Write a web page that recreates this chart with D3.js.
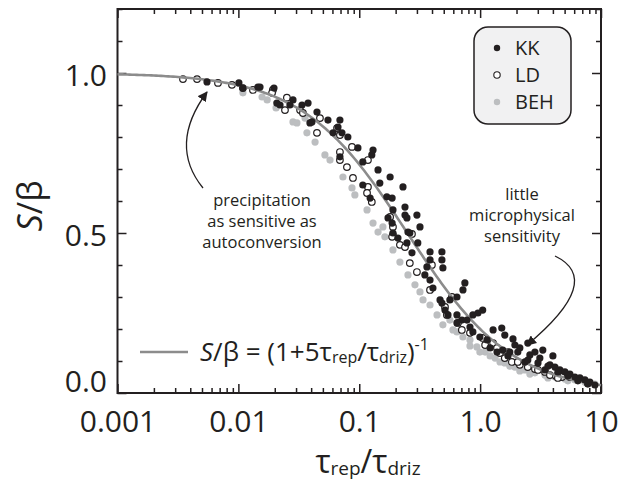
<!DOCTYPE html>
<html>
<head>
<meta charset="utf-8">
<script src="https://cdn.jsdelivr.net/npm/d3@7"></script>
<style>
  body { margin: 0; background: #fff; }
  text { font-family: "Open Sans", sans-serif; fill: #231f20; }
</style>
</head>
<body>
<div id="vis"></div>
<script>
// data: [tau_rep/tau_driz, S/beta]
const KK = [
  [0.0055,0.972],[0.0101,0.969],[0.0109,0.953],[0.0145,0.956],[0.0151,0.956],[0.0197,0.953],
  [0.0208,0.906],[0.0221,0.900],[0.0283,0.916],[0.0267,0.900],[0.0336,0.900],[0.0377,0.906],
  [0.0447,0.878],[0.0391,0.844],[0.0406,0.847],[0.0551,0.853],[0.0692,0.853],[0.0667,0.831],
  [0.0719,0.813],[0.0607,0.813],[0.0805,0.800],[0.0975,0.766],[0.130,0.759],[0.127,0.744],
  [0.0692,0.738],[0.107,0.722],[0.143,0.697],[0.180,0.675],[0.107,0.650],[0.148,0.656],
  [0.230,0.644],[0.123,0.609],[0.169,0.613],[0.187,0.609],[0.239,0.581],[0.239,0.556],
  [0.300,0.556],[0.318,0.519],[0.173,0.547],[0.187,0.531],[0.253,0.503],[0.190,0.572],
  [0.248,0.547],[0.190,0.500],[0.262,0.500],[0.209,0.484],[0.248,0.469],[0.305,0.469],
  [0.273,0.438],[0.385,0.441],[0.483,0.441],[0.483,0.416],[0.492,0.391],[0.385,0.416],
  [0.363,0.394],[0.349,0.369],[0.385,0.353],[0.407,0.328],[0.748,0.344],[0.721,0.322],
  [0.643,0.300],[0.466,0.291],[0.483,0.281],[0.562,0.291],[1.05,0.259],[0.959,0.250],
  [0.871,0.244],[0.512,0.259],[0.542,0.244],[0.643,0.244],[0.706,0.228],[0.643,0.219],
  [0.778,0.228],[0.824,0.206],[0.871,0.191],[0.995,0.175],[1.28,0.197],[1.51,0.203],
  [1.60,0.181],[1.14,0.166],[1.54,0.134],[1.76,0.128],[2.13,0.141],[2.58,0.119],
  [3.12,0.109],[3.78,0.088],[4.57,0.072],[5.53,0.059],[6.69,0.047],[8.09,0.034],
  [2.35,0.097],[3.44,0.072],[1.94,0.150],[2.84,0.128],[4.16,0.081],[5.03,0.066],
  [6.08,0.050],[7.36,0.041],[1.21,0.141],[1.38,0.128],[1.70,0.116],[2.05,0.128],
  [2.48,0.103],[3.01,0.094],[3.64,0.084],[4.40,0.066],[5.32,0.053],[6.44,0.038],
  [7.78,0.028],[8.90,0.025],[1.87,0.169],[2.48,0.156],[3.30,0.134],[4.00,0.116]
];

const LD = [
  [0.00348,0.981],[0.00455,0.981],[0.00678,0.969],[0.00885,0.963],[0.0132,0.947],[0.0193,0.947],
  [0.0109,0.953],[0.0190,0.938],[0.0252,0.923],[0.0243,0.884],[0.0324,0.884],[0.0342,0.875],
  [0.0473,0.859],[0.0447,0.813],[0.0655,0.828],[0.0692,0.806],[0.0871,0.769],[0.0692,0.753],
  [0.0692,0.728],[0.0791,0.706],[0.118,0.728],[0.0887,0.672],[0.118,0.644],[0.116,0.625],
  [0.127,0.597],[0.180,0.550],[0.190,0.519],[0.190,0.494],[0.273,0.497],[0.187,0.488],
  [0.217,0.463],[0.239,0.456],[0.399,0.400],[0.262,0.406],[0.300,0.378],[0.385,0.322],
  [0.512,0.269],[0.585,0.300],[0.531,0.244],[0.655,0.219],[0.824,0.188],[1.28,0.156],
  [1.46,0.125],[1.60,0.109],[1.83,0.097],[2.13,0.088],[2.48,0.081],[2.84,0.075],
  [3.44,0.066],[3.78,0.056],[4.24,0.053],[4.75,0.050],[5.53,0.050],[6.44,0.044],
  [1.10,0.150],[0.706,0.197],[1.05,0.172],[1.38,0.141],[1.70,0.128],[2.05,0.097],
  [3.01,0.072],[4.40,0.047],[7.78,0.031]
];

const BEH = [
  [0.0109,0.938],[0.0205,0.891],[0.0173,0.916],[0.0157,0.925],[0.0283,0.847],[0.0305,0.844],
  [0.0369,0.813],[0.0431,0.784],[0.0520,0.744],[0.0733,0.675],[0.0871,0.641],[0.116,0.572],
  [0.130,0.531],[0.157,0.519],[0.143,0.503],[0.163,0.488],[0.190,0.447],[0.253,0.369],
  [0.318,0.316],[0.337,0.291],[0.385,0.275],[0.440,0.244],[0.492,0.213],[0.643,0.191],
  [0.721,0.175],[0.824,0.166],[0.940,0.144],[1.10,0.128],[1.33,0.109],[1.60,0.094],
  [1.94,0.081],[2.35,0.072],[2.84,0.063],[3.44,0.056],[4.16,0.050],[5.03,0.044],
  [6.08,0.041],[7.36,0.034],[0.0573,0.728],[0.0920,0.619],[0.217,0.409],[0.289,0.338],
  [0.562,0.228],[0.0356,0.859],[0.995,0.128],[1.21,0.116],[1.46,0.097],[1.76,0.084],
  [2.13,0.069],[2.58,0.059],[3.64,0.047],[5.32,0.038],[8.90,0.028],[0.824,0.147],
  [0.596,0.197]
];

// ticks
const X_MAJOR = [0.001, 0.01, 0.1, 1, 10];
const X_LABELS = ["0.001", "0.01", "0.1", "1.0", "10"];
const Y_MAJOR = [0, 0.5, 1.0];
const Y_LABELS = ["0.0", "0.5", "1.0"];
const SERIES = ["KK", "LD", "BEH"];

// fit line, drawn where the picture draws it: S/beta = (1 + k x)^-1
const FIT_COEF = 4;

const FRAME_WIDTH = 628;
const FRAME_HEIGHT = 482;
const MARGINS = {left: 117.5, right: 27, top: 9, bottom: 89};

const INK = "#231f20";
const GREY_PT = "#bcbec0";
const GREY_LINE = "#8c8c8c";

const svg = d3.select("#vis")
  .append("svg")
    .attr("width", FRAME_WIDTH)
    .attr("height", FRAME_HEIGHT);

const X_SCALE = d3.scaleLog()
  .domain([0.001, 10])
  .range([MARGINS.left, FRAME_WIDTH - MARGINS.right]);

const Y_SCALE = d3.scaleLinear()
  .domain([0, 1.2])
  .range([FRAME_HEIGHT - MARGINS.bottom, MARGINS.top]);

const x0 = X_SCALE.range()[0], x1 = X_SCALE.range()[1];
const y0 = Y_SCALE.range()[0], y1 = Y_SCALE.range()[1];

const X_MINOR = X_SCALE.ticks().filter(v => !X_MAJOR.some(m => Math.abs(m - v) < 1e-9));
const Y_MINOR = d3.range(0, 1.21, 0.1).filter(v => !Y_MAJOR.some(m => Math.abs(m - v) < 1e-6));

// draws inward ticks on one side
function ticks(axisFn, scale, values, size, pos, labels) {
  const ax = axisFn(scale).tickValues(values).tickSize(-size).tickSizeOuter(0);
  ax.tickFormat(labels ? ((d, i) => labels[i]) : "");
  const g = svg.append("g").attr("transform", pos).call(ax);
  g.select(".domain").remove();
  g.selectAll("line").attr("stroke", INK).attr("stroke-width", 1.5);
  return g;
}

ticks(d3.axisBottom, X_SCALE, X_MINOR, 5, `translate(0,${y0})`);
const xb = ticks(d3.axisBottom, X_SCALE, X_MAJOR, 9, `translate(0,${y0})`, X_LABELS);
xb.selectAll(".tick text")
  .attr("y", 18)
  .attr("font-size", "30px")
  .attr("font-family", "Open Sans")
  .attr("fill", INK);
ticks(d3.axisTop, X_SCALE, X_MINOR, 5, `translate(0,${y1})`);
ticks(d3.axisTop, X_SCALE, X_MAJOR, 9, `translate(0,${y1})`);

ticks(d3.axisLeft, Y_SCALE, Y_MINOR, 5, `translate(${x0},0)`);
const yl = ticks(d3.axisLeft, Y_SCALE, Y_MAJOR, 9, `translate(${x0},0)`, Y_LABELS);
yl.selectAll(".tick text")
  .attr("x", -10.5)
  .attr("font-size", "30px")
  .attr("font-family", "Open Sans")
  .attr("fill", INK)
  .attr("dy", (d) => d === 0 ? "-0.05em" : "0.4em");
ticks(d3.axisRight, Y_SCALE, Y_MINOR, 5, `translate(${x1},0)`);
ticks(d3.axisRight, Y_SCALE, Y_MAJOR, 9, `translate(${x1},0)`);

// frame
svg.append("rect")
  .attr("x", x0).attr("y", y1)
  .attr("width", x1 - x0).attr("height", y0 - y1)
  .attr("fill", "none").attr("stroke", INK).attr("stroke-width", 2);

// points
const plot = svg.append("g");

plot.selectAll(".beh").data(BEH).enter().append("circle")
  .attr("class", "beh")
  .attr("cx", d => X_SCALE(d[0])).attr("cy", d => Y_SCALE(d[1]))
  .attr("r", 3.6).attr("fill", GREY_PT);

plot.selectAll(".ld").data(LD).enter().append("circle")
  .attr("class", "ld")
  .attr("cx", d => X_SCALE(d[0])).attr("cy", d => Y_SCALE(d[1]))
  .attr("r", 3.3).attr("fill", "#fff").attr("stroke", INK).attr("stroke-width", 1.2);

// fit curve
const curveX = d3.range(-3, 1.0001, 0.02).map(e => Math.pow(10, e));
plot.append("path")
  .datum(curveX)
  .attr("fill", "none").attr("stroke", GREY_LINE).attr("stroke-width", 2.6)
  .attr("d", d3.line().x(d => X_SCALE(d)).y(d => Y_SCALE(1 / (1 + FIT_COEF * d))));

plot.selectAll(".kk").data(KK).enter().append("circle")
  .attr("class", "kk")
  .attr("cx", d => X_SCALE(d[0])).attr("cy", d => Y_SCALE(d[1]))
  .attr("r", 3.6).attr("fill", INK);

// axis titles
svg.append("text")
  .attr("transform", "translate(30,206) rotate(-90)")
  .attr("text-anchor", "middle").attr("dy", "0.35em")
  .attr("font-size", "34px")
  .call(t => {
    t.append("tspan").attr("font-style", "italic").text("S");
    t.append("tspan").text("/β");
  });

svg.append("text")
  .attr("x", 368).attr("y", 473)
  .attr("text-anchor", "middle")
  .attr("font-family", "DejaVu Sans")
  .attr("font-size", "32px")
  .call(t => {
    t.append("tspan").text("τ");
    t.append("tspan").attr("font-size", "19px").attr("dy", 2).text("rep");
    t.append("tspan").attr("dy", -2).text("/τ");
    t.append("tspan").attr("font-size", "19px").attr("dy", 2).text("driz");
  });

// legend
const legend = svg.append("g").attr("transform", "translate(474,27)");
legend.append("rect")
  .attr("width", 97).attr("height", 97).attr("rx", 14)
  .attr("fill", "#f1f1f2").attr("stroke", INK).attr("stroke-width", 1.5);

const legendStyle = {
  KK: {fill: INK, stroke: "none"},
  LD: {fill: "#fff", stroke: INK},
  BEH: {fill: GREY_PT, stroke: "none"}
};
SERIES.forEach((s, i) => {
  const row = legend.append("g").attr("transform", `translate(23,${21 + i * 27})`);
  row.append("circle").attr("r", 3.2)
    .attr("fill", legendStyle[s].fill).attr("stroke", legendStyle[s].stroke).attr("stroke-width", 1.1);
  row.append("text").attr("x", 18).attr("dy", "0.36em").attr("font-size", "20px").text(s);
});

// fit legend
svg.append("line")
  .attr("x1", 140).attr("x2", 188).attr("y1", 352).attr("y2", 352)
  .attr("stroke", GREY_LINE).attr("stroke-width", 2.6);
svg.append("text")
  .attr("x", 200).attr("y", 361)
  .attr("font-size", "26px")
  .call(t => {
    t.append("tspan").attr("font-style", "italic").text("S");
    t.append("tspan").text("/β = (1+5τ");
    t.append("tspan").attr("font-size", "16px").attr("dy", 2).text("rep");
    t.append("tspan").attr("dy", -2).text("/τ");
    t.append("tspan").attr("font-size", "16px").attr("dy", 2).text("driz");
    t.append("tspan").attr("dy", -2).text(")");
    t.append("tspan").attr("font-size", "16px").attr("dy", -11).text("-1");
  });

// annotations
svg.append("defs").append("marker")
  .attr("id", "head").attr("viewBox", "0 0 10 10")
  .attr("refX", 9).attr("refY", 5)
  .attr("markerWidth", 10).attr("markerHeight", 10)
  .attr("markerUnits", "userSpaceOnUse")
  .attr("orient", "auto")
  .append("path").attr("d", "M0,0L10,5L0,10Z").attr("fill", INK);

svg.append("path")
  .attr("d", "M203,188 Q168,145 207,92")
  .attr("fill", "none").attr("stroke", INK).attr("stroke-width", 1.3)
  .attr("marker-end", "url(#head)");

svg.append("path")
  .attr("d", "M555,256 Q605,280 527,345")
  .attr("fill", "none").attr("stroke", INK).attr("stroke-width", 1.3)
  .attr("marker-end", "url(#head)");

// notes, one text per line
const note1 = ["precipitation", "as sensitive as", "autoconversion"];
svg.selectAll(".note1").data(note1).enter().append("text")
  .attr("class", "note1")
  .attr("text-anchor", "middle")
  .attr("font-family", "DejaVu Sans")
  .attr("font-size", "16.5px")
  .attr("x", 262).attr("y", (d, i) => 206 + i * 21)
  .text(d => d);

const note2 = ["little", "microphysical", "sensitivity"];
svg.selectAll(".note2").data(note2).enter().append("text")
  .attr("class", "note2")
  .attr("text-anchor", "middle")
  .attr("font-family", "DejaVu Sans")
  .attr("font-size", "16.5px")
  .attr("x", 522).attr("y", (d, i) => 200 + i * 21)
  .text(d => d);
</script>
</body>
</html>
